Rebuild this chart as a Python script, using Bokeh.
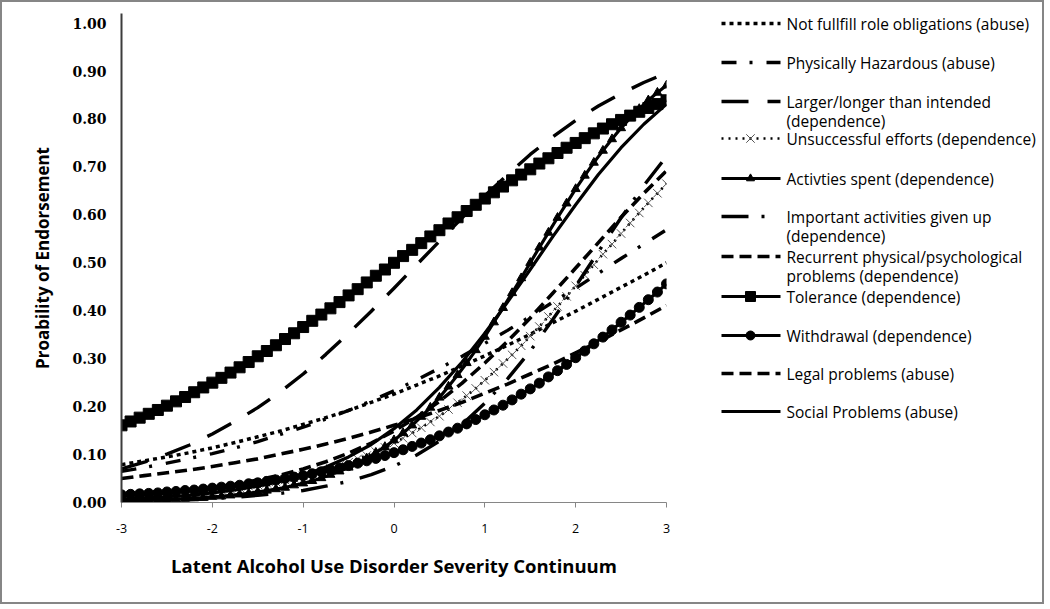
from bokeh.plotting import figure
from bokeh.layouts import row
from bokeh.models import Range1d, FixedTicker, NumeralTickFormatter
from bokeh.core.properties import value
from bokeh.embed import file_html
from bokeh.resources import INLINE

# ---------------- data ----------------
theta_fine = [round(-3 + 0.1 * i, 1) for i in range(61)]     # marker series grid
theta_coarse = [round(-3 + 0.25 * i, 2) for i in range(25)]  # plain line series grid

not_fulfill = [0.079, 0.087, 0.095, 0.104, 0.114, 0.125, 0.137, 0.149, 0.163, 0.177, 0.192, 0.209, 0.226,
               0.245, 0.264, 0.285, 0.306, 0.328, 0.351, 0.375, 0.399, 0.424, 0.449, 0.474, 0.500]
phys_hazard = [0.065, 0.073, 0.082, 0.092, 0.102, 0.114, 0.127, 0.142, 0.157, 0.174, 0.192, 0.212, 0.233,
               0.256, 0.280, 0.305, 0.332, 0.359, 0.388, 0.418, 0.447, 0.478, 0.509, 0.539, 0.569]
larger_longer = [0.070, 0.084, 0.101, 0.120, 0.143, 0.169, 0.198, 0.231, 0.268, 0.309, 0.353, 0.399, 0.447,
                 0.496, 0.545, 0.594, 0.640, 0.684, 0.726, 0.763, 0.797, 0.827, 0.853, 0.876, 0.896]
unsuccessful = [0.010, 0.011, 0.012, 0.013, 0.014, 0.016, 0.017, 0.018, 0.020, 0.022,
                0.024, 0.026, 0.028, 0.031, 0.034, 0.037, 0.040, 0.043, 0.047, 0.051,
                0.056, 0.060, 0.066, 0.071, 0.077, 0.084, 0.091, 0.098, 0.106, 0.115,
                0.124,
                0.134, 0.145, 0.156, 0.168, 0.180, 0.194, 0.208, 0.223, 0.238, 0.255,
                0.272, 0.290, 0.308, 0.327, 0.347, 0.367, 0.388, 0.409, 0.430, 0.452,
                0.474, 0.496, 0.518, 0.539, 0.561, 0.583, 0.604, 0.625, 0.645, 0.665]
activities = [0.003, 0.004, 0.004, 0.005, 0.006, 0.006, 0.007, 0.008, 0.009, 0.010,
              0.012, 0.013, 0.015, 0.017, 0.019, 0.022, 0.025, 0.028, 0.031, 0.036,
              0.040, 0.045, 0.051, 0.058, 0.065, 0.073, 0.082, 0.092, 0.104, 0.116,
              0.130,
              0.145, 0.161, 0.179, 0.198, 0.219, 0.242, 0.266, 0.291, 0.318, 0.346,
              0.376, 0.406, 0.437, 0.468, 0.500, 0.532, 0.563, 0.594, 0.624, 0.654,
              0.682, 0.709, 0.734, 0.758, 0.781, 0.802, 0.821, 0.839, 0.855, 0.870]
important = [0.003, 0.004, 0.005, 0.006, 0.008, 0.011, 0.015, 0.019, 0.025, 0.034, 0.044, 0.058, 0.076,
             0.099, 0.128, 0.163, 0.207, 0.258, 0.316, 0.382, 0.451, 0.523, 0.594, 0.661, 0.722]
recurrent = [0.014, 0.017, 0.021, 0.025, 0.031, 0.038, 0.047, 0.057, 0.070, 0.085, 0.103, 0.124, 0.149,
             0.178, 0.211, 0.249, 0.291, 0.336, 0.385, 0.437, 0.489, 0.542, 0.595, 0.645, 0.692]
tolerance = [0.161, 0.169, 0.177, 0.185, 0.193, 0.202, 0.211, 0.220, 0.230, 0.240,
             0.250, 0.260, 0.271, 0.282, 0.293, 0.305, 0.316, 0.328, 0.341, 0.353,
             0.366, 0.379, 0.392, 0.405, 0.418, 0.432, 0.445, 0.459, 0.473, 0.486,
             0.500,
             0.514, 0.527, 0.541, 0.555, 0.568, 0.582, 0.595, 0.608, 0.621, 0.634,
             0.647, 0.659, 0.672, 0.684, 0.695, 0.707, 0.718, 0.729, 0.740, 0.750,
             0.760, 0.770, 0.780, 0.789, 0.798, 0.807, 0.815, 0.823, 0.831, 0.839]
withdrawal = [0.016, 0.017, 0.018, 0.019, 0.020, 0.022, 0.023, 0.025, 0.026, 0.028,
              0.030, 0.032, 0.034, 0.036, 0.039, 0.041, 0.044, 0.047, 0.050, 0.053,
              0.056, 0.060, 0.064, 0.068, 0.072, 0.077, 0.082, 0.087, 0.092, 0.098,
              0.104,
              0.110, 0.117, 0.124, 0.131, 0.139, 0.147, 0.155, 0.164, 0.173, 0.183,
              0.193, 0.203, 0.214, 0.226, 0.237, 0.249, 0.262, 0.275, 0.288, 0.302,
              0.316, 0.331, 0.345, 0.360, 0.376, 0.391, 0.407, 0.423, 0.439, 0.456]
legal = [0.050, 0.056, 0.062, 0.068, 0.075, 0.083, 0.091, 0.101, 0.111, 0.122, 0.134, 0.147, 0.161,
         0.176, 0.192, 0.209, 0.228, 0.247, 0.268, 0.289, 0.312, 0.335, 0.360, 0.385, 0.411]
social = [0.007, 0.009, 0.012, 0.015, 0.020, 0.026, 0.034, 0.044, 0.057, 0.074, 0.095, 0.121, 0.154,
          0.193, 0.240, 0.293, 0.353, 0.418, 0.486, 0.555, 0.621, 0.684, 0.740, 0.789, 0.831]

labels = ["Not fullfill role obligations (abuse)",
          "Physically Hazardous (abuse)",
          "Larger/longer than intended\n(dependence)",
          "Unsuccessful efforts (dependence)",
          "Activties spent (dependence)",
          "Important activities given up\n(dependence)",
          "Recurrent physical/psychological\nproblems (dependence)",
          "Tolerance (dependence)",
          "Withdrawal (dependence)",
          "Legal problems (abuse)",
          "Social Problems (abuse)"]
series_y = [not_fulfill, phys_hazard, larger_longer, unsuccessful, activities, important,
            recurrent, tolerance, withdrawal, legal, social]
series_x = [theta_coarse, theta_coarse, theta_coarse, theta_fine, theta_fine, theta_coarse,
            theta_coarse, theta_fine, theta_fine, theta_coarse, theta_coarse]

x_ticks = [-3, -2, -1, 0, 1, 2, 3]
y_ticks = [round(i / 10, 1) for i in range(11)]

# ---------------- styles ----------------
styles = [
    dict(dash="4 4", width=3.5, marker=None),
    dict(dash="15 13 3 14", width=3.4, marker=None),
    dict(dash="27 19", width=3.4, marker=None),
    dict(dash="2 5", width=2.6, marker="x"),
    dict(dash="solid", width=3.2, marker="triangle"),
    dict(dash="27 13 3 17", width=3.4, marker=None),
    dict(dash="12 6", width=3.6, marker=None),
    dict(dash="solid", width=3.2, marker="square"),
    dict(dash="solid", width=3.2, marker="circle"),
    dict(dash="12 6", width=3.6, marker=None),
    dict(dash="solid", width=3.2, marker=None),
]
marker_size = {"x": 12, "triangle": 9, "square": 11, "circle": 10}

FONT = "Open Sans"

W_MAIN, W_LEG, H = 678, 362, 600
B_TOP, B_BOTTOM = 11, 100
OFF_X, OFF_Y = 2 + W_MAIN, 2   # page offset of legend panel

# ---------------- main plot ----------------
p = figure(width=W_MAIN, height=H, x_range=Range1d(-3, 3), y_range=Range1d(0, 1.02),
           output_backend="svg", toolbar_location=None, title=None,
           min_border_left=119, min_border_right=14, min_border_top=B_TOP,
           min_border_bottom=B_BOTTOM)
p.xgrid.visible = False
p.ygrid.visible = False
p.outline_line_color = None
p.background_fill_color = "white"
p.border_fill_color = "white"

for xs, ys, st in zip(series_x, series_y, styles):
    p.line(xs, ys, line_color="black", line_width=st["width"], line_dash=st["dash"],
           line_join="round")
    m = st["marker"]
    if m == "x":
        p.scatter(xs, ys, marker="x", size=marker_size[m], line_color="#555555",
                  line_width=1, fill_color=None)
    elif m is not None:
        p.scatter(xs, ys, marker=m, size=marker_size[m], line_color="black",
                  fill_color="black", line_width=1)

xa = p.xaxis[0]
xa.ticker = FixedTicker(ticks=x_ticks)
xa.major_label_overrides = {t: str(t) for t in x_ticks}
xa.axis_line_color = "#868686"
xa.axis_line_width = 1
xa.major_tick_line_color = "#868686"
xa.major_tick_out = 5
xa.major_tick_in = 0
xa.minor_tick_line_color = None
xa.major_label_text_font = FONT
xa.major_label_text_font_size = "12.5px"
xa.major_label_text_color = "black"
xa.major_label_standoff = 16
xa.axis_label = "Latent Alcohol Use Disorder Severity Continuum"
xa.axis_label_text_font = FONT
xa.axis_label_text_font_style = "bold"
xa.axis_label_text_font_size = "18.5px"
xa.axis_label_text_color = "black"
xa.axis_label_standoff = 17

ya = p.yaxis[0]
ya.ticker = FixedTicker(ticks=y_ticks)
ya.formatter = NumeralTickFormatter(format="0.00")
ya.axis_line_color = "#3c3c3c"
ya.axis_line_width = 2
ya.major_tick_line_color = None
ya.major_tick_out = 0
ya.major_tick_in = 0
ya.minor_tick_line_color = None
ya.major_label_text_font = "DejaVu Serif"
ya.major_label_text_font_style = "bold"
ya.major_label_text_font_size = "14px"
ya.major_label_text_color = "black"
ya.major_label_standoff = 15
ya.axis_label = "Proability of Endorsement"
ya.axis_label_text_font = FONT
ya.axis_label_text_font_style = "bold"
ya.axis_label_text_font_size = "17px"
ya.axis_label_text_color = "black"
ya.axis_label_standoff = 15

# ---------------- legend panel (coordinates = page pixels) ----------------
frame_top = OFF_Y + B_TOP
frame_bottom = OFF_Y + H - B_BOTTOM
leg = figure(width=W_LEG, height=H, x_range=Range1d(OFF_X, OFF_X + W_LEG),
             y_range=Range1d(frame_bottom, frame_top),
             output_backend="svg", toolbar_location=None, title=None,
             min_border_left=0, min_border_right=0, min_border_top=B_TOP,
             min_border_bottom=B_BOTTOM, x_axis_location=None, y_axis_location=None)
leg.grid.visible = False
leg.outline_line_color = None
leg.background_fill_color = "white"
leg.border_fill_color = "white"

entry_page_y = [23, 62, 101, 138, 178, 216, 256, 296, 335, 373, 411]
x0, x1, xm, xt = 721, 780, 750, 786
tx, ty, tt = [], [], []
for lab, st, yy in zip(labels, styles, entry_page_y):
    leg.line([x0, x1], [yy, yy], line_color="black", line_width=st["width"],
             line_dash=st["dash"])
    m = st["marker"]
    if m == "x":
        leg.scatter([xm], [yy], marker="x", size=marker_size[m], line_color="#555555",
                    line_width=1)
    elif m is not None:
        leg.scatter([xm], [yy], marker=m, size=marker_size[m] - 1, line_color="black",
                    fill_color="black")
    for k, part in enumerate(lab.split("\n")):
        tx.append(xt)
        ty.append(yy + 19 * k)
        tt.append(part)
leg.text(x=tx, y=ty, text=tt, text_font=value(FONT), text_font_size="15.5px",
         text_baseline="middle", text_align="left", text_color="black")

layout = row(p, leg, styles={"border": "2px solid #868686"})

open("out.html", "w").write(file_html(layout, INLINE))
